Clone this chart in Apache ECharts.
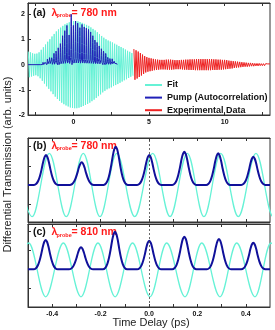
<!DOCTYPE html>
<html><head><meta charset="utf-8">
<script src="https://cdn.jsdelivr.net/npm/echarts@6/dist/echarts.min.js"></script>
<style>html,body{margin:0;padding:0;background:#fff}#c{width:275px;height:330px}</style>
</head><body><div id="c"></div><script>
// ---------- DATA ----------
// Panel (a): fit = dense oscillation; amplitudes at successive extrema (alternating sign)
const fitStartA = -2.982;      // ps, first extremum (a maximum)
const fitHalfPeriodA = 0.07135; // ps between successive extrema
const fitAmpA = [0.52,0.50,0.49,0.47,0.45,0.44,0.43,0.42,0.44,0.46,
 0.49,0.54,0.59,0.64,0.69,0.75,0.80,0.86,0.91,0.96,
 1.01,1.06,1.12,1.17,1.22,1.27,1.32,1.36,1.40,1.44,
 1.47,1.51,1.54,1.57,1.60,1.62,1.64,1.66,1.68,1.70,
 1.71,1.72,1.73,1.73,1.73,1.73,1.72,1.71,1.69,1.68,
 1.66,1.64,1.62,1.60,1.58,1.56,1.54,1.51,1.48,1.45,
 1.42,1.39,1.36,1.32,1.29,1.25,1.21,1.18,1.14,1.10,
 1.07,1.04,1.01,0.98,0.96,0.94,0.92,0.90,0.88,0.85,
 0.83,0.81,0.79,0.77,0.74,0.72,0.70,0.67,0.65,0.62,
 0.60,0.58,0.55,0.53,0.51,0.48,0.46,0.44];
// Panel (a): experimental data extrema
const expStartA = 4.0;
const expHalfPeriodA = 0.0714;
const expAmpA = [0.62,0.60,0.57,0.55,0.52,0.49,0.46,0.43,0.40,0.37,
 0.34,0.31,0.30,0.28,0.27,0.26,0.25,0.24,0.23,0.22,
 0.21,0.21,0.20,0.20,0.19,0.19,0.19,0.19,0.19,0.19,
 0.20,0.20,0.20,0.20,0.20,0.20,0.19,0.19,0.18,0.18,
 0.18,0.18,0.18,0.18,0.19,0.19,0.19,0.20,0.20,0.20,
 0.20,0.21,0.21,0.21,0.21,0.21,0.21,0.22,0.22,0.22,
 0.22,0.22,0.22,0.22,0.22,0.22,0.22,0.22,0.22,0.22,
 0.22,0.22,0.22,0.21,0.21,0.21,0.21,0.21,0.20,0.20,
 0.20,0.20,0.19,0.19,0.19,0.18,0.18,0.17,0.16,0.16,
 0.15,0.15,0.14,0.13,0.13,0.12,0.12,0.11,0.11,0.10,
 0.10,0.09,0.09,0.08,0.08,0.08,0.07,0.07,0.07,0.06,
 0.06,0.06,0.05,0.05,0.05,0.05,0.05,0.04,0.04,0.04,
 0.04,0.04,0.04,0.03,0.03,0.03,0.03];
// Panel (a): pump autocorrelation pulse times and heights
const pumpTimesA = [-2.140,-1.997,-1.854,-1.711,-1.569,-1.426,-1.283,-1.141,-0.998,-0.855,
 -0.713,-0.570,-0.427,-0.284,-0.142,0.001,0.144,0.286,0.429,0.572,
 0.715,0.857,1.000,1.143,1.285,1.428,1.571,1.713,1.856,1.999,
 2.142,2.284,2.427,2.570,2.712,2.855];
const pumpHeightsA = [0.08,0.12,0.18,0.24,0.30,0.36,0.45,0.58,0.72,0.90,
 1.15,1.35,1.56,1.18,2.00,1.56,1.73,1.65,1.47,1.60,
 1.50,1.45,1.40,1.30,1.15,1.05,0.95,0.80,0.68,0.58,
 0.48,0.38,0.32,0.25,0.18,0.12];
// Pulse profile (offset in ps, fraction of peak)
const pulseOffsets = [-0.05,-0.04,-0.032,-0.025,-0.018,-0.012,-0.006,0,0.006,0.012,0.018,0.025,0.032,0.04,0.05];
const pulseShape   = [0,0.04,0.14,0.30,0.53,0.76,0.93,1,0.93,0.76,0.53,0.30,0.14,0.04,0];

// Panel (b): 780 nm
const fitExtremaXB = [-0.554,-0.483,-0.412,-0.342,-0.2715,-0.2025,-0.1335,-0.059,0.0153,0.087,0.1583,0.227,0.2963,0.369,0.4421,0.513,0.584];
const fitExtremaYB = [1.65,-1.65,1.65,-1.65,1.65,-1.65,1.65,-1.65,1.65,-1.65,1.65,-1.65,1.65,-1.65,1.65,-1.65,1.65];
const pumpTimesB = [-0.4256,-0.278,-0.1376,0.001,0.146,0.286,0.431];
const pumpHeightsB = [1.56,1.18,2.00,1.56,1.73,1.65,1.47];

// Panel (c): 810 nm
const fitExtremaXC = [-0.568,-0.497,-0.427,-0.354,-0.281,-0.211,-0.14,-0.068,0.0041,0.073,0.1488,0.218,0.2934,0.3624,0.438,0.504,0.575];
const fitExtremaYC = [-1.43,1.37,-1.43,1.37,-1.43,1.37,-1.43,1.37,-1.43,1.37,-1.43,1.37,-1.43,1.37,-1.43,1.37,-1.43];
const pumpTimesC = [-0.427,-0.281,-0.1405,0.001,0.146,0.289,0.431];
const pumpHeightsC = [1.53,1.15,1.96,1.49,1.70,1.58,1.39];

// Tick labels
const ticksA = [-2.5,0,2.5,5,7.5,10,12.5];
const labelsA = [0,5,10];
const ticksBC = [-0.4,-0.3,-0.2,-0.1,0,0.1,0.2,0.3,0.4];
const labelsBC = [-0.4,-0.2,0,0.2,0.4];
const yLabelsA = [-2,-1,0,1,2];
const yTicksBC = [-1,0,1,2];

// ---------- BUILD ----------
function extremaSeries(start, step, amps){
  return amps.map((a,i)=>[start+i*step, (i%2===0?1:-1)*a]);
}
function pulseTrain(times, heights, xStart, xEnd){
  const pts=[[xStart,0]];
  times.forEach((t,i)=>pulseOffsets.forEach((o,k)=>pts.push([t+o, heights[i]*pulseShape[k]])));
  pts.push([xEnd,0]);
  return pts;
}
const zip=(xs,ys)=>xs.map((x,i)=>[x,ys[i]]);

const FONT='"Liberation Sans", Arial, sans-serif';
const AX='#333';
const CYAN='#66f2d6', BLUE='#10109a', RED='#ee2222', LRED='#ff1a1a';

function xAxisDef(gi, min, max, pos, ticks, labels, fmt){
  return {type:'value', gridIndex:gi, min, max, position:pos,
    axisLine:{show:true,onZero:false,lineStyle:{color:AX,width:1}},
    axisTick:{show:true,inside:true,length:3,customValues:ticks,lineStyle:{color:AX}},
    axisLabel:labels?{show:true,customValues:labels,fontSize:7,fontWeight:'bold',fontFamily:FONT,color:'#111',margin:4,formatter:fmt}:{show:false},
    splitLine:{show:false}};
}
function yAxisDef(gi,min,max,ticks,labels){
  return {type:'value', gridIndex:gi, min, max,
    axisLine:{show:true,onZero:false,lineStyle:{color:AX,width:1}},
    axisTick:{show:true,inside:true,length:3,customValues:ticks,lineStyle:{color:AX}},
    axisLabel:labels?{show:true,customValues:labels,fontSize:7,fontWeight:'bold',fontFamily:FONT,color:'#111',margin:3}:{show:false},
    splitLine:{show:false}};
}
const markZero={silent:true,symbol:'none',label:{show:false},lineStyle:{color:'#444',width:0.8,type:[2,2]},data:[{xAxis:0}]};

const chart=echarts.init(document.getElementById('c'),null,{renderer:'canvas'});
chart.setOption({
  animation:false,
  backgroundColor:'#fff',
  grid:[
    {left:28,top:3,width:242,height:112,show:true,borderColor:AX,borderWidth:1},
    {left:28,top:138,width:242,height:84,show:true,borderColor:AX,borderWidth:1},
    {left:28,top:224,width:242,height:83,show:true,borderColor:AX,borderWidth:1}
  ],
  xAxis:[
    xAxisDef(0,-3,13,'bottom',ticksA,labelsA,v=>String(v)),
    xAxisDef(1,-0.5,0.5,'bottom',ticksBC,null),
    xAxisDef(2,-0.5,0.5,'bottom',ticksBC,labelsBC,v=>v.toFixed(1)),
    xAxisDef(0,-3,13,'top',ticksA,null),
    xAxisDef(1,-0.5,0.5,'top',ticksBC,null),
    xAxisDef(2,-0.5,0.5,'top',ticksBC,null)
  ],
  yAxis:[
    yAxisDef(0,-2,2.45,yLabelsA,yLabelsA),
    yAxisDef(1,-1.93,2.45,yTicksBC,null),
    yAxisDef(2,-1.96,2.36,yTicksBC,null)
  ],
  legend:{show:true,orient:'vertical',left:140,top:75,itemWidth:17,itemHeight:2,itemGap:2.6,icon:'rect',
    data:['Fit','Pump (Autocorrelation)','Experimental Data'],
    textStyle:{fontSize:9,fontWeight:'bold',fontFamily:FONT,color:'#111',lineHeight:10,padding:[0,0,0,0]}},
  series:[
    {name:'Fit',type:'line',xAxisIndex:0,yAxisIndex:0,data:extremaSeries(fitStartA,fitHalfPeriodA,fitAmpA),
      showSymbol:false,color:CYAN,lineStyle:{color:CYAN,width:1},z:2},
    {name:'Pump (Autocorrelation)',type:'line',xAxisIndex:0,yAxisIndex:0,data:pulseTrain(pumpTimesA,pumpHeightsA,-3,2.9),
      showSymbol:false,color:'#2020b8',lineStyle:{color:'#2020b8',width:1},z:4},
    {name:'Experimental Data',type:'line',xAxisIndex:0,yAxisIndex:0,data:extremaSeries(expStartA,expHalfPeriodA,expAmpA),
      showSymbol:false,color:RED,lineStyle:{color:RED,width:1},z:3},
    {name:'fitB',type:'line',xAxisIndex:1,yAxisIndex:1,data:zip(fitExtremaXB,fitExtremaYB),smooth:0.36,smoothMonotone:'x',
      showSymbol:false,color:CYAN,lineStyle:{color:CYAN,width:1.3},z:2,markLine:markZero},
    {name:'pumpB',type:'line',xAxisIndex:1,yAxisIndex:1,data:pulseTrain(pumpTimesB,pumpHeightsB,-0.5,0.5),smooth:0.3,
      showSymbol:false,color:BLUE,lineStyle:{color:BLUE,width:2},z:3},
    {name:'fitC',type:'line',xAxisIndex:2,yAxisIndex:2,data:zip(fitExtremaXC,fitExtremaYC),smooth:0.36,smoothMonotone:'x',
      showSymbol:false,color:CYAN,lineStyle:{color:CYAN,width:1.3},z:2,markLine:markZero},
    {name:'pumpC',type:'line',xAxisIndex:2,yAxisIndex:2,data:pulseTrain(pumpTimesC,pumpHeightsC,-0.5,0.5),smooth:0.3,
      showSymbol:false,color:BLUE,lineStyle:{color:BLUE,width:2},z:3}
  ],
  graphic:[
    ...[['(a)',12.7,'= 780 nm'],['(b)',145.7,'= 780 nm'],['(c)',232.3,'= 810 nm']].flatMap(([lab,y,wl])=>[
      {type:'text',x:33,y:y,style:{text:lab,fill:'#111',font:'bold 10.5px '+FONT,align:'left',verticalAlign:'middle'}},
      {type:'text',x:51.5,y:y,style:{text:'λ',fill:LRED,font:'bold 10.5px '+FONT,align:'left',verticalAlign:'middle'}},
      {type:'text',x:56.5,y:y+3,style:{text:'probe',fill:LRED,font:'bold 5.5px '+FONT,align:'left',verticalAlign:'middle'}},
      {type:'text',x:71.5,y:y,style:{text:wl,fill:LRED,font:'bold 10.5px '+FONT,align:'left',verticalAlign:'middle'}}
    ]),
    {type:'text',x:8,y:164.5,rotation:Math.PI/2,style:{text:'Differential Transmission (arb. units)',fill:'#222',font:'11px '+FONT,align:'center',verticalAlign:'middle'}},
    {type:'text',x:151,y:323.3,style:{text:'Time Delay (ps)',fill:'#222',font:'11px '+FONT,align:'center',verticalAlign:'middle'}}
  ]
});
</script></body></html>
